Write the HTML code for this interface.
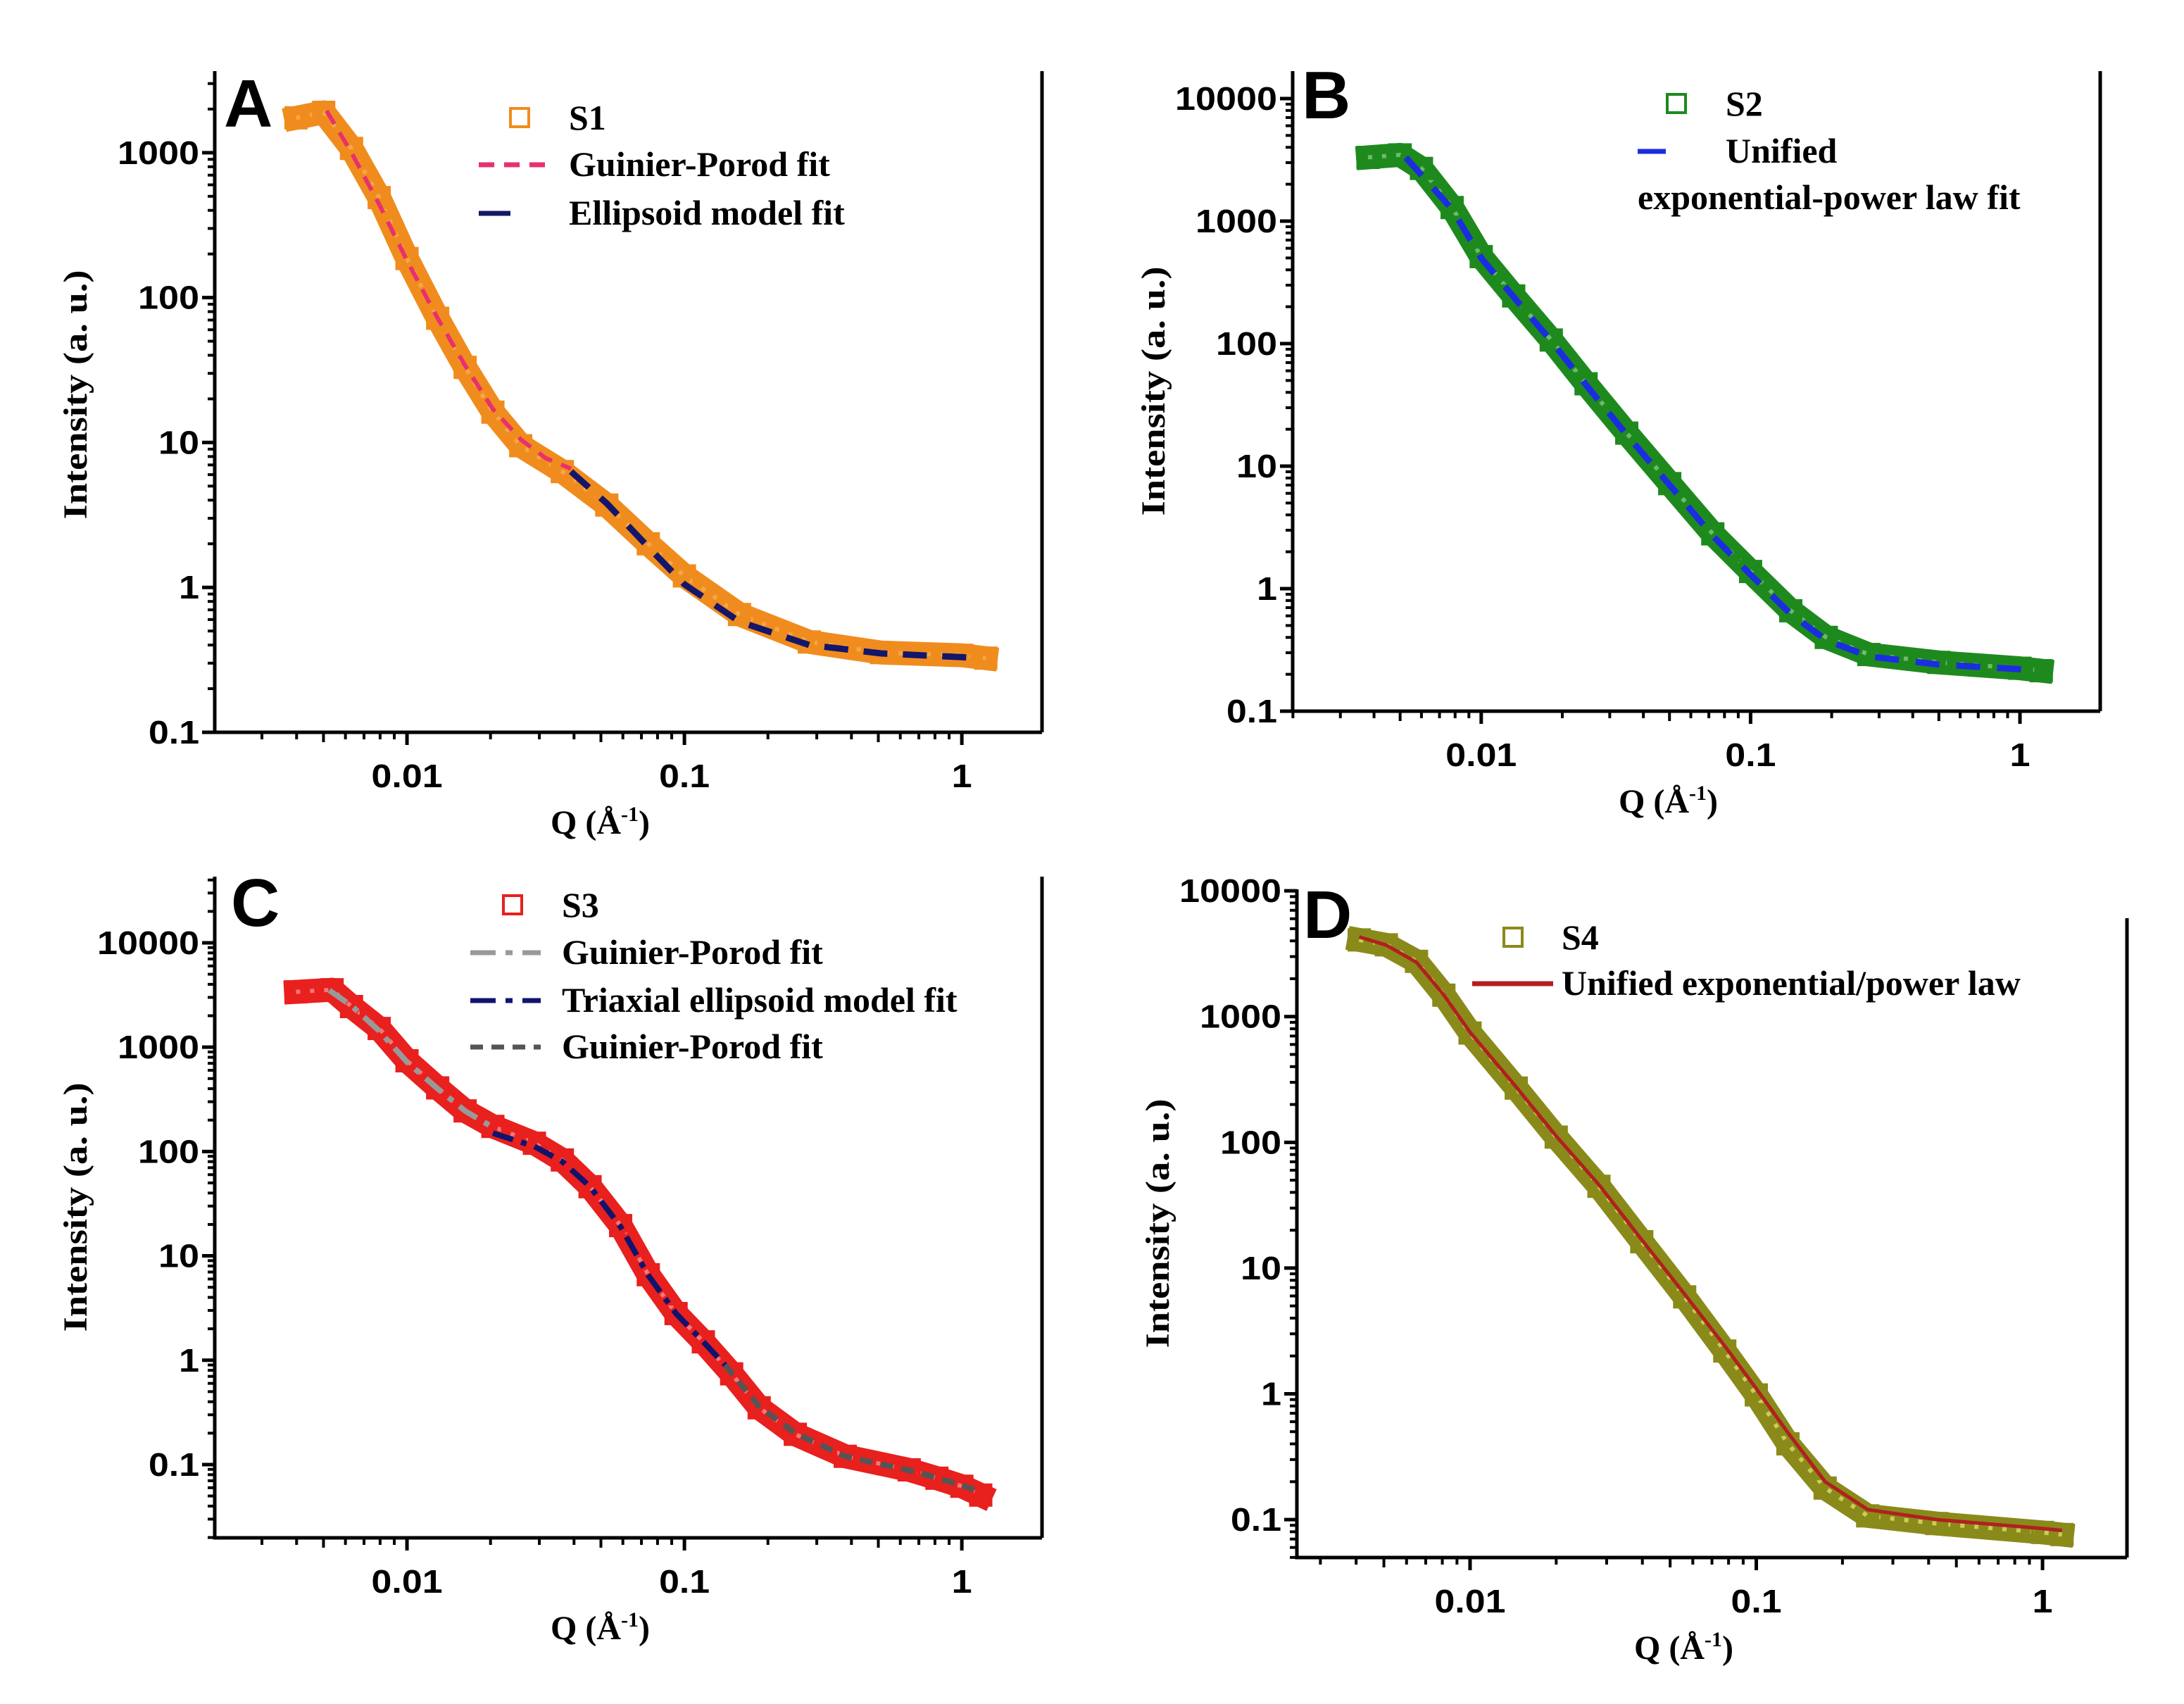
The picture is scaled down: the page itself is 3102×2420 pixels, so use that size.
<!DOCTYPE html>
<html><head><meta charset="utf-8"><style>
html,body{margin:0;padding:0;background:#fff;}
svg{display:block;}
.tick{font-family:"Liberation Sans",Arial,sans-serif;font-weight:bold;font-size:46px;fill:#000;}
.ttl{font-family:"Liberation Serif","Times New Roman",serif;font-weight:bold;font-size:48px;fill:#000;}
.leg{font-family:"Liberation Serif","Times New Roman",serif;font-weight:bold;font-size:50px;fill:#000;}
.plab{font-family:"Liberation Sans",Arial,sans-serif;font-weight:bold;font-size:96px;fill:#000;}
</style></head><body>
<svg id="fig" width="3102" height="2420" viewBox="0 0 3102 2420" xmlns="http://www.w3.org/2000/svg">
<rect width="3102" height="2420" fill="#fff"/>
</svg>
<script>
// ---- Panel A (S1) ----
const qA = [0.00398,0.00501,0.00631,0.00794,0.01,0.0129,0.0162,0.0204,0.0257,0.0363,0.0525,0.0741,0.1,0.158,0.282,0.513,1.0,1.22];
const iA = [1740,1900,1070,490,186,72,33,16.2,9.5,6.3,3.7,2.0,1.2,0.65,0.42,0.355,0.34,0.325];
const fitA1Q = [0.00513,0.00631,0.00794,0.01,0.0129,0.0162,0.0204,0.0257,0.0316,0.039];
const fitA1I = [1950,1000,440,180,72,34,17,10.5,7.8,6.6];
const fitA2Q = [0.039,0.0525,0.0741,0.1,0.158,0.282,0.513,1.0,1.15];
const fitA2I = [6.3,3.8,1.9,1.05,0.58,0.4,0.35,0.33,0.325];
const yTicksA = [0.1,1,10,100,1000];
const yLabelsA = ["0.1","1","10","100","1000"];
// ---- Panel B (S2) ----
const qB = [0.0038,0.005,0.006,0.0078,0.01,0.0132,0.0182,0.0245,0.0347,0.0501,0.0724,0.1,0.141,0.191,0.275,0.5,1.0,1.2];
const iB = [3310,3470,2690,1290,513,245,107,47,18.6,7.2,2.8,1.38,0.66,0.40,0.29,0.25,0.224,0.214];
const fitBQ = [0.00525,0.0078,0.01,0.0132,0.0182,0.0245,0.0347,0.0501,0.0724,0.1,0.141,0.191,0.275,0.5,1.0,1.1];
const fitBI = [3300,1250,500,240,105,46,18,7.0,2.7,1.3,0.62,0.38,0.28,0.24,0.22,0.218];
const yTicksB = [0.1,1,10,100,1000,10000];
const yLabelsB = ["0.1","1","10","100","1000","10000"];
// ---- Panel C (S3) ----
const qC = [0.00398,0.00537,0.00631,0.00794,0.01,0.0129,0.0162,0.0204,0.0288,0.0363,0.0457,0.0589,0.0741,0.0933,0.117,0.148,0.186,0.251,0.38,0.646,0.813,1.0,1.17];
const iC = [3390,3550,2450,1510,740,407,245,174,120,83,46,19.5,6.6,2.8,1.5,0.74,0.35,0.195,0.12,0.089,0.074,0.062,0.051];
const fitC1Q = [0.00525,0.0063,0.0079,0.01,0.0129,0.0162,0.0204];
const fitC1I = [3500,2500,1450,720,400,245,170];
const fitC2Q = [0.0204,0.0288,0.0363,0.0457,0.0589,0.0741,0.0933,0.117,0.14];
const fitC2I = [150,112,80,46,19,6.5,2.8,1.5,0.9];
const fitC3Q = [0.14,0.186,0.251,0.38,0.646,0.813,1.0,1.17];
const fitC3I = [0.9,0.36,0.2,0.12,0.088,0.075,0.063,0.055];
const yTicksC = [0.1,1,10,100,1000,10000];
const yLabelsC = ["0.1","1","10","100","1000","10000"];
// ---- Panel D (S4) ----
const qD = [0.0041,0.0051,0.0065,0.0081,0.01,0.0145,0.02,0.0282,0.0398,0.0562,0.0776,0.1,0.129,0.174,0.245,0.427,1.0,1.17];
const iD = [4070,3720,2750,1480,740,270,110,44.7,16.2,5.9,2.19,0.98,0.40,0.178,0.107,0.093,0.079,0.076];
const fitDQ = [0.0041,0.0051,0.0065,0.0081,0.01,0.0145,0.02,0.0282,0.0398,0.0562,0.0776,0.1,0.129,0.174,0.245,0.427,1.0,1.17];
const fitDI = [4300,3700,2700,1480,750,275,112,46,16.8,6.2,2.4,1.1,0.49,0.2,0.12,0.1,0.085,0.082];
const yTicksD = [0.1,1,10,100,1000,10000];
const yLabelsD = ["0.1","1","10","100","1000","10000"];
const xTicks = [0.01,0.1,1];
const xLabels = ["0.01","0.1","1"];

const NS = "http://www.w3.org/2000/svg";
const svg = document.getElementById("fig");
function mk(tag, attrs, parent){
  const e = document.createElementNS(NS, tag);
  for (const k in attrs) e.setAttribute(k, attrs[k]);
  (parent||svg).appendChild(e);
  return e;
}
function tlen(s){ let w=0; for (const ch of s) w += (ch==='.') ? 14 : 29; return w; }
function panel(c){
  const g = mk("g", {});
  
  
  const X = q => c.x0 + (Math.log10(q) - c.xl0) / (c.xl1 - c.xl0) * (c.x1 - c.x0);
  const Y = v => c.yb - (Math.log10(v) - c.yl0) / (c.yl1 - c.yl0) * (c.yb - c.yt);
  const ax = mk("path", {d:`M${c.x0},${c.yt}V${c.yb}H${c.x1}`, stroke:"#000","stroke-width":5, fill:"none"}, g);
  
  
  const ra = mk("line", {x1:c.x1,y1:c.rt,x2:c.x1,y2:c.yb, stroke:"#000","stroke-width":5}, g);
  
  
  for (let d = Math.floor(c.yl0); d <= Math.ceil(c.yl1); d++){
    for (let k = 1; k <= 9; k++){
      const v = k * Math.pow(10, d);
      const lv = Math.log10(v);
      if (lv < c.yl0 - 1e-6 || lv > c.yl1 + 1e-6) continue;
      const len = k === 1 ? 18 : 10;
      mk("line", {x1:c.x0-len, y1:Y(v), x2:c.x0, y2:Y(v), stroke:"#000","stroke-width":k===1?5:4}, g);
    }
  }
  c.yt_.forEach((v, i) => {
    const s = c.yl_[i];
    const t = mk("text", {x:c.x0-22-tlen(s), y:Y(v)+16, class:"tick", textLength:tlen(s), lengthAdjust:"spacingAndGlyphs"}, g);
    t.textContent = s;
    
    
  });
  for (let d = Math.floor(c.xl0); d <= Math.ceil(c.xl1); d++){
    for (let k = 1; k <= 9; k++){
      const v = k * Math.pow(10, d);
      const lv = Math.log10(v);
      if (lv < c.xl0 || lv > c.xl1) continue;
      const len = k === 1 ? 18 : (k===5 ? 14 : 10);
      mk("line", {x1:X(v), y1:c.yb, x2:X(v), y2:c.yb+len, stroke:"#000","stroke-width":k===1?5:4}, g);
    }
  }
  xTicks.forEach((v, i) => {
    const s = xLabels[i];
    const t = mk("text", {x:X(v)-tlen(s)/2, y:c.yb+78, class:"tick", textLength:tlen(s), lengthAdjust:"spacingAndGlyphs"}, g);
    t.textContent = s;
    
    
  });
  const xt = mk("text", {x:(c.x0+c.x1)/2 - 40, y:c.yb+144, "text-anchor":"middle", class:"ttl"}, g);
  xt.innerHTML = 'Q (Å<tspan dy="-18" font-size="30">-1</tspan><tspan dy="18">)</tspan>';
  
  
  const yc = (c.yt + c.yb)/2 + c.ytOff;
  const yt = mk("text", {x:-177, y:0, transform:`translate(${c.x0-182},${yc}) rotate(-90)`, class:"ttl", textLength:354, lengthAdjust:"spacingAndGlyphs"}, g);
  yt.textContent = "Intensity (a. u.)";
  
  
  const pts = c.q.map((q, i) => `${X(q).toFixed(1)},${Y(c.i[i]).toFixed(1)}`).join(" ");
  const band = mk("polyline", {points:pts, fill:"none", stroke:c.mc, "stroke-width":34, "stroke-linejoin":"round", "stroke-linecap":"square"}, g);
  
  
  mk("polyline", {points:pts, fill:"none", stroke:c.mi, "stroke-width":6, "stroke-linejoin":"round", "stroke-dasharray":"6 14", opacity:0.7}, g);
  c.q.forEach((q, i) => {
    const r = mk("rect", {x:X(q)-14, y:Y(c.i[i])-14, width:28, height:28, fill:"none", stroke:c.mc, "stroke-width":5}, g);
    
    
  });
  c.fits.forEach(f => {
    const p = mk("polyline", {points:f.q.map((q,i)=>`${X(q).toFixed(1)},${Y(f.i[i]).toFixed(1)}`).join(" "), fill:"none", stroke:f.col, "stroke-width":f.w||7, "stroke-dasharray":f.dash||"none", "stroke-linejoin":"round"}, g);
    
    
  });
  const pl = mk("text", {x:c.lx, y:c.ly, class:"plab"}, g);
  pl.textContent = c.letter;
  
  
  const lg = mk("g", {}, g);
  
  
  c.legend.forEach(e => {
    if (e.sq) mk("rect", {x:e.sx-13, y:e.y-14, width:26, height:26, fill:"none", stroke:c.mc, "stroke-width":4}, lg);
    if (e.line) mk("line", {x1:e.line[0], y1:e.y, x2:e.line[1], y2:e.y, stroke:e.col, "stroke-width":7, "stroke-dasharray":e.dash||"none"}, lg);
    const t = mk("text", {x:e.tx, y:e.y+16, class:"leg"}, lg);
    t.textContent = e.text;
    
    
  });
}
panel({name:"panel-a", letter:"A", lx:318, ly:180, x0:305, x1:1480, yt:101, rt:101, yb:1040, xl0:-2.693, xl1:0.289, yl0:-1, yl1:3.563, ytOff:-10,
  q:qA, i:iA, mc:"#f08c1e", mi:"#f7b25a", yt_:yTicksA, yl_:yLabelsA,
  fits:[{q:fitA1Q,i:fitA1I,col:"#e8306e",dash:"22 14",w:6},{q:fitA2Q,i:fitA2I,col:"#14166a",dash:"34 22",w:9}],
  legend:[{sq:1,sx:738,y:168,tx:808,text:"S1"},{line:[680,780],col:"#e8306e",dash:"22 14",y:234,tx:808,text:"Guinier-Porod fit"},{line:[680,725],col:"#14166a",y:303,tx:808,text:"Ellipsoid model fit"}]});
panel({name:"panel-b", letter:"B", lx:1849, ly:168, x0:1836, x1:2983, yt:101, rt:101, yb:1010, xl0:-2.70, xl1:0.298, yl0:-1, yl1:4.224, ytOff:0,
  q:qB, i:iB, mc:"#1e8a1e", mi:"#8fcf8f", yt_:yTicksB, yl_:yLabelsB,
  fits:[{q:fitBQ,i:fitBI,col:"#1a2ee0",dash:"34 24",w:9}],
  legend:[{sq:1,sx:2381,y:148,tx:2451,text:"S2"},{line:[2326,2366],col:"#1a2ee0",y:215,tx:2451,text:"Unified"},{y:281,tx:2326,text:"exponential-power law fit"}]});
panel({name:"panel-c", letter:"C", lx:328, ly:1315, x0:305, x1:1480, yt:1245, rt:1245, yb:2184, xl0:-2.693, xl1:0.289, yl0:-1.702, yl1:4.634, ytOff:0,
  q:qC, i:iC, mc:"#e8201e", mi:"#f5a0a0", yt_:yTicksC, yl_:yLabelsC,
  fits:[{q:fitC1Q,i:fitC1I,col:"#999999",dash:"30 12 8 12",w:8},{q:fitC2Q,i:fitC2I,col:"#10146e",dash:"30 12 8 12",w:8},{q:fitC3Q,i:fitC3I,col:"#555555",dash:"18 12",w:8}],
  legend:[{sq:1,sx:728,y:1286,tx:798,text:"S3"},{line:[668,768],col:"#999999",dash:"36 14 10 14",y:1353,tx:798,text:"Guinier-Porod fit"},{line:[668,768],col:"#10146e",dash:"36 14 10 14",y:1421,tx:798,text:"Triaxial ellipsoid model fit"},{line:[668,768],col:"#555555",dash:"18 12",y:1487,tx:798,text:"Guinier-Porod fit"}]});
panel({name:"panel-d", letter:"D", lx:1851, ly:1332, x0:1842, x1:3021, yt:1263, rt:1304, yb:2212, xl0:-2.605, xl1:0.295, yl0:-1.302, yl1:4.012, ytOff:0,
  q:qD, i:iD, mc:"#8a8a1a", mi:"#e8e870", yt_:yTicksD, yl_:yLabelsD,
  fits:[{q:fitDQ,i:fitDI,col:"#b02020",w:5}],
  legend:[{sq:1,sx:2149,y:1332,tx:2218,text:"S4"},{line:[2091,2206],col:"#b02020",y:1397,tx:2218,text:"Unified exponential/power law"}]});
</script>
</body></html>
